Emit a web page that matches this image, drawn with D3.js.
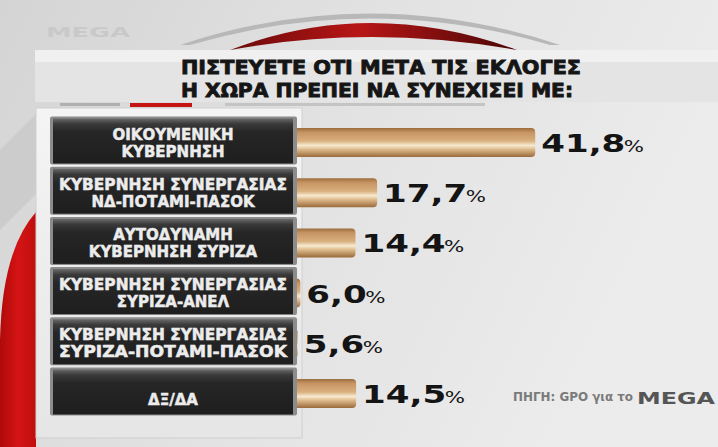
<!DOCTYPE html>
<html><head><meta charset="utf-8">
<script src="https://cdn.jsdelivr.net/npm/d3@7"></script>
<style>html,body{margin:0;padding:0;background:#ddd;overflow:hidden}</style>
</head><body>
<svg id="c" width="718" height="447"></svg>
<script>
const titleLines = ["ΠΙΣΤΕΥΕΤΕ ΟΤΙ ΜΕΤΑ ΤΙΣ ΕΚΛΟΓΕΣ", "Η ΧΩΡΑ ΠΡΕΠΕΙ ΝΑ ΣΥΝΕΧΙΣΕΙ ΜΕ:"];
const categories = [
  ["ΟΙΚΟΥΜΕΝΙΚΗ", "ΚΥΒΕΡΝΗΣΗ"],
  ["ΚΥΒΕΡΝΗΣΗ ΣΥΝΕΡΓΑΣΙΑΣ", "ΝΔ-ΠΟΤΑΜΙ-ΠΑΣΟΚ"],
  ["ΑΥΤΟΔΥΝΑΜΗ", "ΚΥΒΕΡΝΗΣΗ ΣΥΡΙΖΑ"],
  ["ΚΥΒΕΡΝΗΣΗ ΣΥΝΕΡΓΑΣΙΑΣ", "ΣΥΡΙΖΑ-ΑΝΕΛ"],
  ["ΚΥΒΕΡΝΗΣΗ ΣΥΝΕΡΓΑΣΙΑΣ", "ΣΥΡΙΖΑ-ΠΟΤΑΜΙ-ΠΑΣΟΚ"],
  ["ΔΞ/ΔΑ"]
];
const values = [41.8, 17.7, 14.4, 6.0, 5.6, 14.5];
const sourceText = "ΠΗΓΗ: GPO για το";
const logoText = "MEGA";

const svg = d3.select("#c");
const defs = svg.append("defs");
const W = 718, H = 447;

function lg(id, stops, x2, y2) {
  const g = defs.append("linearGradient").attr("id", id)
    .attr("x1", 0).attr("y1", 0).attr("x2", x2).attr("y2", y2);
  stops.forEach(s => g.append("stop").attr("offset", s[0]).attr("stop-color", s[1]));
}
lg("bg", [[0, "#d4d4d4"], [0.5, "#e2e2e2"], [1, "#ececec"]], 1, 0.3);
lg("bar", [[0, "#9c6c3c"], [0.15, "#c69462"], [0.45, "#d9b07e"], [0.6, "#f7ead2"], [0.72, "#e2c092"], [1, "#9a6a3a"]], 0, 1);
lg("box", [[0, "#6a6a6a"], [0.12, "#3a3a3a"], [0.3, "#262626"], [1, "#1e1e1e"]], 0, 1);
lg("red", [[0, "#b00a0a"], [0.5, "#d41414"], [1, "#c00e0e"]], 1, 0);
lg("arc", [[0, "#6a0a0a"], [0.45, "#b81616"], [1, "#4a0606"]], 1, 0);
lg("panel", [[0, "#f4f4f4"], [1, "#e6e6e6"]], 0, 1);

// background
svg.append("rect").attr("width", W).attr("height", H).attr("fill", "url(#bg)");
// top decorative arcs
svg.append("path").attr("d", "M180,45 Q370,-18 560,45 L550,45 Q370,-8 190,45 Z").attr("fill", "#b8b8b8");
svg.append("path").attr("d", "M230,50 Q370,-4 517,50 Q370,24 230,50 Z").attr("fill", "url(#arc)");
// horizontal band behind title
svg.append("rect").attr("x", 35).attr("y", 50).attr("width", W - 35).attr("height", 12).attr("fill", "#f0f0f0");
svg.append("rect").attr("x", 35).attr("y", 62).attr("width", W - 35).attr("height", 40).attr("fill", "#e4e4e4");
svg.append("rect").attr("x", 60).attr("y", 103).attr("width", 60).attr("height", 3).attr("fill", "#b0b0b0");
svg.append("rect").attr("x", 130).attr("y", 103).attr("width", 62).attr("height", 4).attr("fill", "#c41414");
svg.append("rect").attr("x", 225).attr("y", 103).attr("width", 260).attr("height", 3).attr("fill", "#c4c4c4");
// left shapes
svg.append("path").attr("d", "M0,150 L40,110 L40,190 L0,230 Z").attr("fill", "#c8c8c8").attr("opacity", 0.7);
svg.append("path").attr("d", "M36,212 Q2,250 0,340 L0,447 L36,447 Z").attr("fill", "url(#red)");
// panel behind boxes
svg.append("rect").attr("x", 36).attr("y", 108).attr("width", 266).attr("height", 330).attr("fill", "url(#panel)").attr("stroke", "#cfcfcf");

// MEGA logo top-left
svg.append("text").attr("x", 46).attr("y", 37).text(logoText)
  .attr("font-family", "DejaVu Sans").attr("font-weight", "bold").attr("font-size", 14)
  .attr("fill", "#c9c9c9").attr("textLength", 84).attr("lengthAdjust", "spacingAndGlyphs");

// title
svg.append("g").selectAll("text").data(titleLines).join("text")
  .attr("x", 181).attr("y", (d, i) => 74 + i * 23)
  .attr("textLength", (d, i) => i === 0 ? 400 : 392).attr("lengthAdjust", "spacingAndGlyphs")
  .attr("font-family", "DejaVu Sans, sans-serif")
  .attr("font-weight", "bold").attr("font-size", 20).attr("fill", "#151515")
  .attr("stroke", "#151515").attr("stroke-width", 0.9).text(d => d);

// scales
const x = d3.scaleLinear().domain([0, 50]).range([261, 589]);
const y = d3.scaleBand().domain(d3.range(values.length)).range([117.4, 418.6]);
const fmt = d3.formatLocale({decimal: ",", thousands: ".", grouping: [3], currency: ["", "€"]}).format(".1f");

const rows = svg.append("g").selectAll("g").data(values).join("g")
  .attr("transform", (d, i) => `translate(0,${y(i) + y.bandwidth() / 2})`);

// bars
rows.append("rect").attr("x", x(0)).attr("y", -14.5)
  .attr("width", d => x(d) - x(0)).attr("height", 29).attr("rx", 4)
  .attr("fill", "url(#bar)");

// label boxes
rows.append("rect").attr("x", 50).attr("y", -26).attr("width", 247).attr("height", 48).attr("fill", "#8c8c8c").attr("rx", 2);
rows.append("rect").attr("x", 53).attr("y", -24).attr("width", 240).attr("height", 45).attr("fill", "url(#box)");
rows.append("text").attr("text-anchor", "middle")
  .attr("font-family", "DejaVu Sans").attr("font-weight", "bold").attr("font-size", 15)
  .attr("fill", "#ececec").attr("stroke", "#ececec").attr("stroke-width", 0.5)
  .each(function(d, i) {
    const lines = categories[i];
    const t = d3.select(this);
    lines.forEach((ln, k) => {
      t.append("tspan").attr("x", 173)
        .attr("y", lines.length === 1 ? 11 : -3 + k * 17)
        .attr("textLength", ln.length > 18 ? 228 : null).attr("lengthAdjust", "spacingAndGlyphs")
        .text(ln);
    });
  });

// value labels
rows.append("text")
  .attr("transform", d => `translate(${x(d) + 6},9.5) scale(1.42,1)`)
  .attr("font-family", "DejaVu Sans").attr("font-weight", "bold").attr("font-size", 24)
  .attr("fill", "#141414")
  .call(t => t.append("tspan").text(d => fmt(d)))
  .call(t => t.append("tspan").attr("font-size", 15).attr("dx", -1).attr("font-weight", "normal").text("%"));

// footer
svg.append("text").attr("x", 513).attr("y", 401).text(sourceText)
  .attr("font-family", "DejaVu Sans, sans-serif").attr("font-weight", "bold").attr("font-size", 11.5)
  .attr("fill", "#7a7a7a").attr("textLength", 120).attr("lengthAdjust", "spacingAndGlyphs");
svg.append("text").attr("x", 637).attr("y", 404).text(logoText)
  .attr("font-family", "DejaVu Sans").attr("font-weight", "bold").attr("font-size", 15)
  .attr("fill", "#555").attr("textLength", 78).attr("lengthAdjust", "spacingAndGlyphs");
</script>
</body></html>
